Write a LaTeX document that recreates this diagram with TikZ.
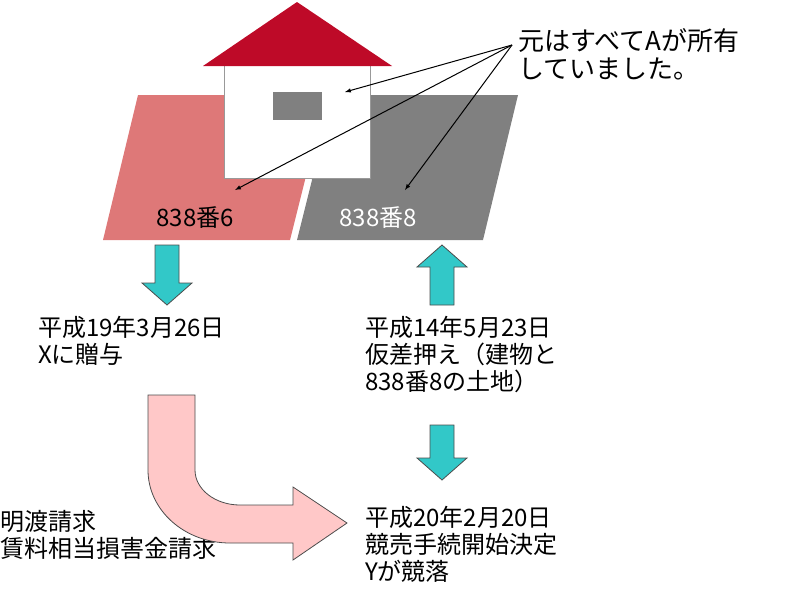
\documentclass[tikz,border=0pt]{standalone}
\usepackage{fontspec}
\newfontfamily\jp{Noto Sans CJK JP}
\definecolor{roof}{RGB}{190,10,40}
\definecolor{pinkland}{RGB}{222,120,120}
\definecolor{grayland}{RGB}{128,128,128}
\definecolor{cyanar}{RGB}{50,200,200}
\definecolor{pinkar}{RGB}{255,200,200}
\tikzset{lbl/.style={font=\jp\fontsize{24}{27}\selectfont,align=left,anchor=north west,inner sep=0pt},
 bigarrow/.style={fill=cyanar,draw=black!70,line width=0.8pt},
 call/.style={-latex,line width=1pt}}
\begin{document}
\begin{tikzpicture}[x=1pt,y=-1pt]
\useasboundingbox (0,0) rectangle (800,600);
\fill[pinkland] (138,95)--(305,95)--(305,180)--(290,240)--(103,240)--cycle;
\fill[grayland] (300,95)--(518,95)--(483,240)--(297,240)--(312,180)--cycle;
\fill[white,draw=black!40] (224,65) rectangle (370,178);
\fill[roof] (297,2)--(392,66)--(203,66)--cycle;
\fill[grayland] (273,92) rectangle (322,120);
\node[font=\jp\fontsize{24}{26}\selectfont,inner sep=0pt] (l6) at (195,218) {838番6};
\node[font=\jp\fontsize{24}{26}\selectfont,inner sep=0pt,text=white] (l8) at (378,218) {838番8};
\node[lbl,font=\jp\fontsize{26}{28}\selectfont] (own) at (518,28) {元はすべてAが所有\\していました。};
\coordinate (src) at (512,45);
\coordinate (w) at (345,92);
\coordinate (p6) at (235,190);
\coordinate (p8) at (405,190);
\draw[call] (src) -- (w);
\draw[call] (src) -- (p6);
\draw[call] (src) -- (p8);
\draw[bigarrow] (155,245)--(179,245)--(179,283)--(192,283)--(167,305)--(142,283)--(155,283)--cycle;
\draw[bigarrow] (430,305)--(454,305)--(454,267)--(467,267)--(442,245)--(417,267)--(430,267)--cycle;
\draw[bigarrow] (430,425)--(454,425)--(454,458)--(467,458)--(442,480)--(417,458)--(430,458)--cycle;
\node[lbl] (t1) at (38,316) {平成19年3月26日\\Xに贈与};
\node[lbl] (t2) at (365,316) {平成14年5月23日\\仮差押え（建物と\\838番8の土地）};
\node[lbl] (t3) at (365,506) {平成20年2月20日\\競売手続開始決定\\Yが競落};
\node[lbl] (t4) at (0,510) {明渡請求\\賃料相当損害金請求};
\draw[fill=pinkar,draw=black!70,line width=0.8pt]
 (148,395)--(195,395)--(195,470) arc[start angle=180,end angle=90,x radius=45,y radius=35]
 --(293,505)--(293,487)--(347,523)--(293,560)--(293,543)--(230,543)
 arc[start angle=90,end angle=180,x radius=82,y radius=73]--cycle;
\end{tikzpicture}
\end{document}
